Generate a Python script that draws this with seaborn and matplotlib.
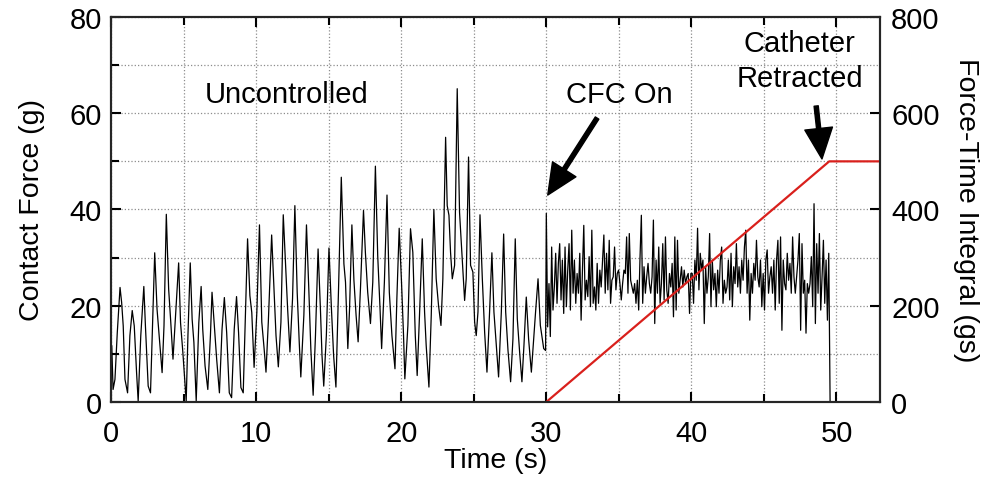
import numpy as np
import matplotlib
matplotlib.use("Agg")
import matplotlib.pyplot as plt
import seaborn as sns

# ---- data ----
# uncontrolled contact force (time in s, force in g)
unc_t = [0.05, 0.14, 0.27, 0.43, 0.62, 0.73, 0.84, 0.96, 1.14, 1.30, 1.46, 1.60, 1.76, 1.87,
         2.05, 2.26, 2.37, 2.56, 2.72, 2.85, 3.01, 3.17, 3.29, 3.52, 3.65, 3.81, 3.97, 4.11,
         4.27, 4.43, 4.66, 4.79, 4.95, 5.18, 5.30, 5.46, 5.59, 5.71, 5.87, 6.05, 6.21, 6.32,
         6.48, 6.67, 6.85, 6.96, 7.12, 7.28, 7.47, 7.65, 7.81, 7.97, 8.15, 8.31, 8.49, 8.65,
         8.79, 8.95, 9.11, 9.25, 9.41, 9.57, 9.70, 9.86,
         10.05, 10.23, 10.39, 10.55, 10.68, 10.84, 11.07, 11.23, 11.37, 11.53, 11.71, 11.87,
         12.03, 12.17, 12.33, 12.51, 12.67, 12.83, 12.97, 13.08, 13.29, 13.47, 13.63, 13.77,
         13.93, 14.09, 14.27, 14.43, 14.54, 14.66, 14.84, 15.02, 15.18, 15.34, 15.50, 15.68,
         15.87, 16.05, 16.16, 16.32, 16.44, 16.60, 16.74, 16.89, 17.03, 17.19, 17.40, 17.53,
         17.69, 17.88, 18.04, 18.22, 18.38, 18.54, 18.65, 18.84, 19.02, 19.18, 19.36, 19.57,
         19.70, 19.86, 20.02, 20.16, 20.25,
         20.46, 20.64, 20.80, 20.97, 21.10, 21.26, 21.45, 21.61, 21.72, 21.91, 22.07, 22.25,
         22.41, 22.57, 22.74, 22.87, 23.06, 23.17, 23.29, 23.40, 23.52, 23.68, 23.86, 24.02,
         24.18, 24.37, 24.48, 24.64, 24.78, 24.94, 25.06, 25.17, 25.29, 25.43, 25.59, 25.75,
         25.91, 26.09, 26.25, 26.39, 26.55, 26.71, 26.90, 27.06, 27.20, 27.36, 27.54, 27.70,
         27.86, 28.00, 28.16, 28.32, 28.46, 28.62, 28.78, 28.97, 29.13, 29.26, 29.43, 29.59,
         29.82, 29.95]
unc_f = [11.7, 2.6, 4.7, 14.4, 23.8, 20.7, 15.8, 4.7, 1.9, 13.8, 19.0, 15.8, 6.1, 0.2,
         13.8, 24.0, 15.8, 3.3, 1.9, 15.1, 31.0, 19.3, 14.8, 6.1, 15.8, 39.0, 23.5, 16.9,
         8.9, 17.2, 28.9, 16.5, 10.3, 0.2, 13.8, 28.9, 17.2, 12.4, 0.2, 16.5, 24.0, 15.1,
         7.5, 2.6, 13.8, 22.8, 15.8, 8.9, 1.9, 15.1, 21.7, 14.4, 1.9, 0.9, 15.1, 21.9,
         14.4, 3.0, 1.9, 17.2, 33.9, 22.1, 18.6, 7.2,
         18.7, 36.8, 16.6, 11.1, 6.2, 16.6, 34.7, 23.5, 13.8, 7.3, 16.6, 38.9,
         28.4, 19.4, 10.4, 21.5, 40.8, 22.8, 12.5, 5.2, 18.0, 36.8, 23.5, 11.1,
         1.4, 13.8, 31.8, 19.4, 9.7, 3.3, 13.8, 32.0, 20.1, 9.7, 3.1, 23.5,
         46.7, 28.7, 24.9, 11.1, 19.4, 36.8, 25.3, 18.0, 12.5, 23.5, 39.8, 31.1,
         22.8, 16.3, 24.9, 49.0, 30.4, 19.4, 11.1, 24.9, 43.0, 22.8, 13.8, 6.9,
         21.5, 36.1, 24.9, 13.8, 4.8,
         15.9, 36.0, 31.1, 13.8, 5.5, 18.0, 33.9, 18.7, 11.8, 3.1, 18.0, 40.0,
         25.6, 20.1, 15.9, 25.6, 55.0, 40.8, 38.8, 31.1, 25.6, 28.4, 65.1, 39.4,
         31.1, 21.1, 25.6, 50.9, 28.4, 27.0, 16.6, 13.8, 18.7, 38.9, 25.6, 14.5,
         6.2, 18.7, 31.0, 18.7, 11.8, 5.2, 18.7, 34.9, 18.7, 10.7, 4.2, 13.1,
         33.9, 17.3, 10.4, 4.2, 11.8, 21.8, 13.1, 6.2, 13.1, 18.7, 25.6, 15.9,
         11.1, 10.7]

# controlled contact force, sampled evenly from CFC on (30 s) to retraction
cfc_start, cfc_end = 30.0, 49.56
cfc_f = [39.2, 15.6, 24.6, 13.6, 32.2, 19.1, 23.9, 30.9, 20.5, 28.8, 32.9, 21.2, 29.5, 18.4,
         32.2, 19.8, 27.4, 32.9, 19.1, 35.7, 22.6, 29.5, 20.5, 26.7, 22.6, 30.9, 17.0, 27.4,
         36.7, 21.2, 25.3, 21.9, 30.2, 19.8, 35.7, 20.5, 23.9, 19.1, 28.8, 20.5, 27.4, 23.9,
         29.5, 34.7, 22.6, 30.9, 23.3, 33.6, 20.5, 25.3, 26.0, 32.2, 23.3, 26.7, 27.4,
         24.6, 21.2, 24.6, 27.4, 26.7, 34.3, 22.6, 35.0, 25.3, 23.9, 22.6, 24.6, 20.5, 25.3,
         19.1, 30.0, 38.8, 20.5, 28.1, 22.6, 26.0, 28.8, 24.6, 22.6, 26.0, 37.8, 16.3, 29.5,
         22.6, 32.2, 20.5, 24.6, 32.9, 21.2, 34.3, 23.3, 20.5, 26.7, 23.9, 28.8, 17.7, 34.3,
         19.1, 33.6, 22.6, 25.3, 28.1, 23.9, 27.4, 24.6, 26.0, 26.7, 18.4, 26.7,
         26.7, 20.5, 29.5, 25.3, 36.1, 23.3, 30.9, 27.4, 29.5, 16.3, 28.1, 22.6, 26.0, 35.0,
         19.8, 29.5, 23.3, 26.7, 19.8, 27.4, 22.6, 29.5, 32.2, 20.5, 25.3, 22.6, 23.9, 29.5,
         21.2, 30.9, 19.8, 28.1, 24.6, 32.9, 23.9, 28.1, 22.6, 29.5, 25.3, 32.2, 35.7, 22.6,
         29.5, 17.0, 26.7, 22.6, 28.8, 25.3, 33.6, 26.0, 23.9, 29.5, 19.8,
         26.7, 19.1, 29.5, 31.6, 22.6, 26.0, 28.1, 22.6, 29.5, 19.1, 29.5, 33.6, 20.5, 34.3,
         14.9, 29.5, 24.6, 23.3, 30.9, 25.3, 28.8, 22.6, 34.3, 26.0, 22.6, 26.0, 29.5, 35.0,
         14.9, 32.9, 22.6, 25.3, 14.3, 24.6, 22.6, 24.6, 30.2, 19.8, 41.2, 16.3, 32.9, 22.6,
         35.0, 19.1, 26.0, 33.6, 20.5, 29.5, 17.0, 30.9, 0.0]

# force-time integral (right axis, g*s)
fti_t = [30.0, 49.5, 53.0]
fti_v = [0, 500, 500]

cfc_t = np.linspace(cfc_start, cfc_end, len(cfc_f))
time = np.concatenate([unc_t, cfc_t])
force = np.concatenate([unc_f, cfc_f])

sns.set_theme(style="ticks")
plt.rcParams['font.family'] = ['Liberation Sans', 'DejaVu Sans']
plt.rcParams['axes.linewidth'] = 1.5
plt.rcParams['text.color'] = 'black'
plt.rcParams['axes.labelcolor'] = 'black'

fig = plt.figure(figsize=(9.87, 4.81), dpi=100)
ax = fig.add_axes([0.1125, 0.1622, 0.7791, 0.8004])

sns.lineplot(x=time, y=force, ax=ax, color='black', lw=0.9,
             estimator=None, sort=False)
ax.set_xlim(0, 53)
ax.set_ylim(0, 80)
ax.set_xticks([0, 10, 20, 30, 40, 50])
ax.set_xticks([5, 15, 25, 35, 45], minor=True)
ax.set_yticks([0, 20, 40, 60, 80])
ax.set_yticks([10, 30, 50, 70], minor=True)
ax.grid(which='both', linestyle=':', color='#8c8c8c', lw=0.9)
ax.tick_params(which='both', direction='in', top=True, right=False,
               labelsize=21, colors='black', width=1.5)
ax.tick_params(which='major', length=7)
ax.tick_params(which='minor', length=6)
ax.tick_params(axis='x', which='both', pad=12)
ax.tick_params(axis='y', which='both', pad=6.5)
ax.set_xlabel('Time (s)', fontsize=20.5, labelpad=0)
ax.set_ylabel('Contact Force (g)', fontsize=20.5, labelpad=18)
for s in ax.spines.values():
    s.set_color('black')

ax2 = ax.twinx()
ax2.plot(fti_t, fti_v, color='#d9201c', lw=1.6)
ax2.set_ylim(0, 800)
ax2.set_yticks([0, 200, 400, 600, 800])
ax2.tick_params(direction='in', length=7, width=1.5, labelsize=21, colors='black', pad=8)
ax2.set_ylabel('Force-Time Integral (gs)', fontsize=20.5, rotation=270, labelpad=28)
ax2.grid(False)

# annotations
ax.text(12.1, 64, 'Uncontrolled', fontsize=21, ha='center', va='center')
ax.text(35.05, 64, 'CFC On', fontsize=21, ha='center', va='center')
ax.text(47.45, 71, 'Catheter\nRetracted', fontsize=21, ha='center', va='center',
        linespacing=1.3)
arrow = dict(facecolor='black', edgecolor='black', width=3, headwidth=20, headlength=22)
ax.annotate('', xy=(30.1, 43), xytext=(33.5, 59), arrowprops=arrow)
ax.annotate('', xy=(49.0, 50.5), xytext=(48.6, 61.5), arrowprops=arrow)

plt.savefig('out.png', dpi=100)
